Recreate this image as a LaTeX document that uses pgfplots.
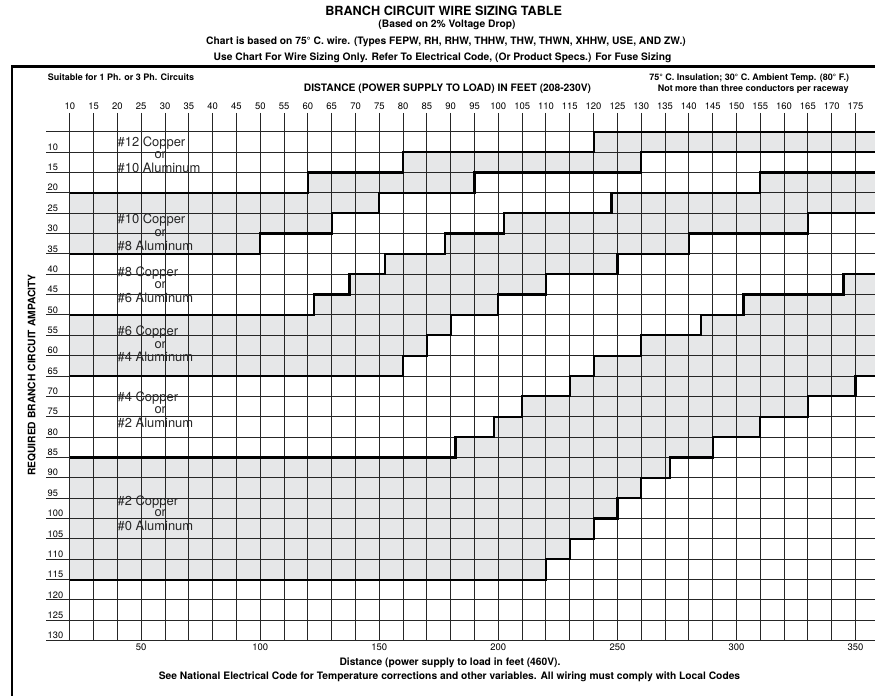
\documentclass[border=0pt]{standalone}
\usepackage{pgfplots}
\pgfplotsset{compat=1.18}
\usepackage{fontspec}
\setmainfont{TeX Gyre Heros}
\definecolor{zonegray}{HTML}{E6E7E8}
\definecolor{gridc}{HTML}{262626}
\newcommand{\fs}[1]{\fontsize{#1}{#1}\selectfont}
\begin{document}
\begin{tikzpicture}[x=1bp,y=1bp]
\path[use as bounding box] (0,0) rectangle (875,696);
\pgfplotsset{
  chartbase/.style={
    scale only axis, width=829bp, height=527.7bp,
    at={(460.5bp,319.15bp)}, anchor=center,
    xmin=10, xmax=358.2, ymin=0.4, ymax=130, y dir=reverse,
    axis line style={draw=none}, major tick length=0pt,
  }
}
% ---- shaded zones ----
\begin{axis}[chartbase, xtick=\empty, ytick=\empty]
% #10 copper zone
\addplot[fill=zonegray, draw=none] coordinates {
(20,20)(120,20)(120,15)(160,15)(160,10)(240,10)(240,5)(358.2,5)
(358.2,10)(260,10)(260,15)(190,15)(190,20)(150,20)(150,25)(130,25)(130,30)(100,30)(100,35)(20,35)};
% #6 copper zone
\addplot[fill=zonegray, draw=none] coordinates {
(20,50)(122.5,50)(122.5,45)(137.5,45)(137.5,40)(152.5,40)(152.5,35)(177.5,35)(177.5,30)(202.5,30)(202.5,25)(247.5,25)(247.5,20)(310,20)(310,15)(358.2,15)
(358.2,25)(330,25)(330,30)(280,30)(280,35)(250,35)(250,40)(220,40)(220,45)(200,45)(200,50)(180,50)(180,55)(170,55)(170,60)(160,60)(160,65)(20,65)};
% #2 copper zone
\addplot[fill=zonegray, draw=none] coordinates {
(20,85)(182,85)(182,80)(198,80)(198,75)(210,75)(210,70)(230,70)(230,65)(240,65)(240,60)(260,60)(260,55)(285,55)(285,50)(303,50)(303,45)(345,45)(345,40)(358.2,40)
(358.2,65)(350,65)(350,70)(330,70)(330,75)(310,75)(310,80)(290,80)(290,85)(272,85)(272,90)(260,90)(260,95)(250,95)(250,100)(240,100)(240,105)(230,105)(230,110)(220,110)(220,115)(20,115)};
\end{axis}
% ---- grid, boundaries, top/left labels ----
\begin{axis}[chartbase,
  grid=major, grid style={gridc, line width=1bp},
  xtick={20,30,...,350}, xticklabel pos=upper,
  xticklabels={10,15,20,25,30,35,40,45,50,55,60,65,70,75,80,85,90,95,100,105,110,115,120,125,130,135,140,145,150,155,160,165,170,175},
  xticklabel style={font={\fs{9.5}}},
  ytick={10,15,...,130},
  yticklabels={10,15,20,25,30,35,40,45,50,55,60,65,70,75,80,85,90,95,100,105,110,115,120,125,130},
  yticklabel style={font={\fs{9.3}}, anchor=south west, inner sep=1.5bp},
  extra y ticks={5}, extra y tick labels={}, extra y tick style={grid=major},
]
\addplot[const plot, black, line width=2.2bp] coordinates {(20,20)(120,15)(160,10)(240,5)(358.2,5)};
\addplot[const plot, black, line width=2.2bp] coordinates {(20,35)(100,30)(130,25)(150,20)(190,15)(260,10)(358.2,10)};
\addplot[const plot, black, line width=2.2bp] coordinates {(20,50)(122.5,45)(137.5,40)(152.5,35)(177.5,30)(202.5,25)(247.5,20)(310,15)(358.2,15)};
\addplot[const plot, black, line width=2.2bp] coordinates {(20,65)(160,60)(170,55)(180,50)(200,45)(220,40)(250,35)(280,30)(330,25)(358.2,25)};
\addplot[const plot, black, line width=2.2bp] coordinates {(20,85)(182,80)(198,75)(210,70)(230,65)(240,60)(260,55)(285,50)(303,45)(345,40)(358.2,40)};
\addplot[const plot, black, line width=2.2bp] coordinates {(20,115)(220,110)(230,105)(240,100)(250,95)(260,90)(272,85)(290,80)(310,75)(330,70)(350,65)(358.2,65)};
\begin{scope}[every node/.style={font={\fs{13}}, inner sep=0pt, text=black!85}]
\node[anchor=base west] at (axis cs:40,8.6) {\#12 Copper};
\node[anchor=base] at (axis cs:58,11.55) {or};
\node[anchor=base west] at (axis cs:40,14.95) {\#10 Aluminum};
\node[anchor=base west] at (axis cs:40,27.65) {\#10 Copper};
\node[anchor=base] at (axis cs:58,30.8) {or};
\node[anchor=base west] at (axis cs:40,34.15) {\#8 Aluminum};
\node[anchor=base west] at (axis cs:40,40.55) {\#8 Copper};
\node[anchor=base] at (axis cs:58,43.45) {or};
\node[anchor=base west] at (axis cs:40,46.95) {\#6 Aluminum};
\node[anchor=base west] at (axis cs:40,55.05) {\#6 Copper};
\node[anchor=base] at (axis cs:58,58.25) {or};
\node[anchor=base west] at (axis cs:40,61.55) {\#4 Aluminum};
\node[anchor=base west] at (axis cs:40,71.25) {\#4 Copper};
\node[anchor=base] at (axis cs:58,74.15) {or};
\node[anchor=base west] at (axis cs:40,77.55) {\#2 Aluminum};
\node[anchor=base west] at (axis cs:40,96.75) {\#2 Copper};
\node[anchor=base] at (axis cs:58,99.55) {or};
\node[anchor=base west] at (axis cs:40,102.95) {\#0 Aluminum};
\end{scope}
\end{axis}
% ---- bottom (460V) scale ----
\begin{axis}[chartbase, ytick=\empty,
  xtick={50,100,...,350}, xticklabel pos=lower,
  xticklabels={50,100,150,200,250,300,350},
  xticklabel style={font={\fs{9.5}}},
]
\end{axis}
% ---- frame ----
\draw[line width=2.5bp, black] (12,-5) -- (12,629.5) -- (880,629.5);
% ---- titles ----
\begin{scope}[every node/.style={inner sep=0pt, font=\bfseries}]
\node[font={\bfseries\fs{12.7}}] at (443.7,685) {BRANCH CIRCUIT WIRE SIZING TABLE};
\node[font={\bfseries\fs{10.3}}] at (447,671) {(Based on 2\% Voltage Drop)};
\node[font={\bfseries\fs{10.3}}] at (446,654) {Chart is based on 75° C. wire. (Types FEPW, RH, RHW, THHW, THW, THWN, XHHW, USE, AND ZW.)};
\node[font={\bfseries\fs{10.3}}] at (442.5,638) {Use Chart For Wire Sizing Only. Refer To Electrical Code, (Or Product Specs.) For Fuse Sizing};
\node[font={\bfseries\fs{9}}, anchor=west] at (47.7,618.3) {Suitable for 1 Ph. or 3 Ph. Circuits};
\node[font={\bfseries\fs{9}}, anchor=east] at (849.3,617.7) {75° C. Insulation; 30° C. Ambient Temp. (80° F.)};
\node[font={\bfseries\fs{9}}, anchor=east] at (848.7,607) {Not more than three conductors per raceway};
\node[font={\bfseries\fs{10.3}}] at (447.5,607) {DISTANCE (POWER SUPPLY TO LOAD) IN FEET (208-230V)};
\node[font={\bfseries\fs{10.3}}, rotate=90] at (31.7,321) {REQUIRED BRANCH CIRCUIT AMPACITY};
\node[font={\bfseries\fs{10.3}}] at (450,32.7) {Distance (power supply to load in feet (460V).};
\node[font={\bfseries\fs{10.3}}] at (449.5,19.3) {See National Electrical Code for Temperature corrections and other variables. All wiring must comply with Local Codes};
\end{scope}
\end{tikzpicture}
\end{document}
